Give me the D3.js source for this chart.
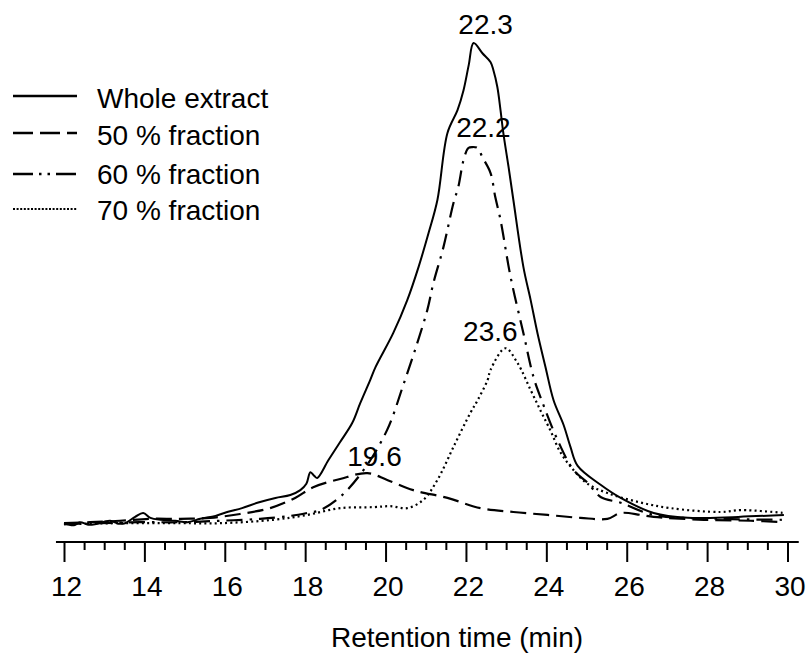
<!DOCTYPE html>
<html>
<head>
<meta charset="utf-8">
<script src="https://cdn.jsdelivr.net/npm/d3@7/dist/d3.min.js"></script>
<style>
  html, body { margin: 0; padding: 0; background: #fff; }
  svg { display: block; font-family: "Liberation Sans", Arial, sans-serif; }
</style>
</head>
<body>
<svg id="chart" width="807" height="657"></svg>
<script>
// ---- Data (retention time in min, detector response in arbitrary units) ----
const wholeTime  = [12.00,12.25,12.40,12.60,12.77,13.00,13.15,13.35,13.52,13.77,13.97,14.15,14.40,14.77,15.07,15.39,15.77,16.06,16.43,16.81,17.26,17.63,17.88,18.03,18.13,18.23,18.30,18.58,18.87,19.17,19.37,19.62,19.75,20.19,20.54,20.82,21.07,21.29,21.54,21.79,21.94,22.07,22.19,22.41,22.61,22.68,22.78,22.86,22.93,23.06,23.18,23.43,23.61,23.78,23.98,24.18,24.43,24.60,24.78,25.35,25.85,26.67,27.52,28.77,29.91];
const wholeValue = [1.4,1.0,1.6,1.1,1.2,1.7,1.9,1.3,1.4,2.7,3.5,2.5,2.1,1.9,1.6,2.3,2.9,3.7,4.5,5.6,6.6,7.2,8.2,9.5,11.9,11.1,10.7,14.4,18.1,22.0,26.1,30.9,33.5,40.5,47.3,54.1,61.1,67.9,81.7,86.4,90.5,95.7,100.2,98.1,96.3,94.7,91.2,86.4,81.7,74.7,67.9,54.1,47.3,40.5,33.5,26.7,21.6,17.1,13.2,9.3,6.6,3.5,2.5,2.7,3.1];

const f50Time  = [12.00,12.65,13.39,14.14,14.89,15.64,16.38,17.13,17.75,18.20,18.87,19.55,20.04,20.69,21.54,22.36,23.18,24.03,24.85,25.52,25.85,26.35,26.67,27.92,29.09,29.91];
const f50Value = [1.4,1.6,1.9,2.3,2.3,2.5,3.3,4.5,6.6,8.8,10.5,11.7,10.3,8.2,6.6,4.5,3.7,3.1,2.5,2.3,3.5,3.1,2.7,2.1,1.9,1.6];

const f60Time  = [12.00,12.90,13.89,14.89,15.89,16.88,17.63,18.05,18.38,18.87,19.45,20.04,20.44,20.79,21.04,21.19,21.44,21.69,21.81,21.94,22.06,22.16,22.29,22.41,22.61,22.73,22.86,23.11,23.43,23.68,23.86,24.28,24.68,25.03,25.35,25.85,26.67,28.34,29.91];
const f60Value = [1.2,1.4,1.6,1.6,1.9,2.3,2.9,3.5,4.1,6.8,12.3,20.6,29.8,38.5,45.3,50.8,58.2,67.3,70.6,76.1,78.6,78.8,78.6,76.7,73.5,68.5,63.8,52.1,40.5,31.5,27.2,18.5,12.3,9.7,6.8,5.6,3.1,2.3,2.1];

const f70Time  = [12.00,13.39,14.89,15.89,17.21,18.05,18.87,19.70,20.12,20.54,20.94,21.29,21.69,22.11,22.29,22.54,22.61,22.98,23.28,23.61,23.86,24.10,24.35,24.68,25.03,25.52,26.27,27.09,28.34,28.84,29.91];
const f70Value = [1.2,1.4,1.4,1.4,2.1,3.1,4.5,4.7,4.9,4.5,6.2,10.3,17.1,24.1,26.7,30.9,32.9,37.4,34.4,28.8,24.5,20.5,16.0,12.3,9.5,7.6,5.8,4.5,3.7,4.1,3.5];

const seriesNames = ["Whole extract", "50 % fraction", "60 % fraction", "70 % fraction"];
const peakLabels  = ["22.3", "22.2", "23.6", "19.6"];
const peakTimes   = [22.19, 22.16, 22.98, 19.55];
const peakValues  = [100.2, 78.8, 37.4, 11.7];
const majorTicks  = [12, 14, 16, 18, 20, 22, 24, 26, 28, 30];
const xTitle      = "Retention time (min)";

// ---- Layout ----
const svg = d3.select("#chart");
const x = d3.scaleLinear().domain([12, 30]).range([64, 787.5]);
const y = d3.scaleLinear().domain([0, 100]).range([530, 44]);
const axisY = 542;

const styles = [
  { dash: null,            width: 2.0 },
  { dash: "16,7",          width: 2.2 },
  { dash: "16,7,2.5,7",    width: 2.2 },
  { dash: "2,3.2",         width: 2.2 }
];

const seriesData = [
  d3.zip(wholeTime, wholeValue),
  d3.zip(f50Time, f50Value),
  d3.zip(f60Time, f60Value),
  d3.zip(f70Time, f70Value)
];

const line = d3.line()
  .x(d => x(d[0]))
  .y(d => y(d[1]))
  .curve(d3.curveCatmullRom.alpha(0.5));

const g = svg.append("g");
seriesData.forEach((data, i) => {
  g.append("path")
    .datum(data)
    .attr("d", line)
    .attr("fill", "none")
    .attr("stroke", "#000")
    .attr("stroke-width", styles[i].width)
    .attr("stroke-dasharray", styles[i].dash)
    .attr("stroke-linejoin", "round");
});

// ---- Axis ----
const minor = d3.range(12, 30.01, 0.5).filter(v => !majorTicks.includes(v));
const axMinor = svg.append("g").attr("transform", `translate(0,${axisY})`)
  .call(d3.axisBottom(x).tickValues(minor).tickSize(8).tickSizeOuter(0).tickFormat(""));
const axMajor = svg.append("g").attr("transform", `translate(0,${axisY})`)
  .call(d3.axisBottom(x).tickValues(majorTicks).tickSize(20).tickSizeOuter(0).tickFormat(d3.format("d")));
[axMinor, axMajor].forEach(a => {
  a.select(".domain").remove();
  a.selectAll(".tick line").attr("stroke", "#000").attr("stroke-width", 2);
});
axMajor.selectAll(".tick text")
  .attr("y", 54).attr("dy", "0").attr("dx", 2)
  .attr("fill", "#000")
  .style("font-size", "28px")
  .style("font-family", "'Liberation Sans', Arial, sans-serif");

svg.append("line")
  .attr("x1", x(11.8)).attr("x2", x(30.28))
  .attr("y1", axisY).attr("y2", axisY)
  .attr("stroke", "#000").attr("stroke-width", 2.2);

svg.append("text")
  .attr("x", 457).attr("y", 647)
  .attr("text-anchor", "middle")
  .style("font-size", "28px")
  .text(xTitle);

// ---- Peak labels ----
const labelDx = [12, 11, -15, 7];
const labelDy = [-9, -10, -7, -7];
peakLabels.forEach((lab, i) => {
  svg.append("text")
    .attr("x", x(peakTimes[i]) + labelDx[i])
    .attr("y", y(peakValues[i]) + labelDy[i])
    .attr("text-anchor", "middle")
    .style("font-size", "28px")
    .text(lab);
});

// ---- Legend ----
const legendRowY = [96, 133, 174, 209];
const legendTextY = [108, 145, 184, 220];
const leg = svg.append("g");
seriesNames.forEach((name, i) => {
  leg.append("line")
    .attr("x1", 13).attr("x2", 77)
    .attr("y1", legendRowY[i]).attr("y2", legendRowY[i])
    .attr("stroke", "#000")
    .attr("stroke-width", i === 3 ? 2 : 2.4)
    .attr("stroke-dasharray", i === 1 ? "20,7" : i === 2 ? "20,6,2.5,6,2.5,6" : i === 3 ? "2,1.6" : null);
  leg.append("text")
    .attr("x", 97).attr("y", legendTextY[i])
    .style("font-size", "28px")
    .text(name);
});
</script>
</body>
</html>
